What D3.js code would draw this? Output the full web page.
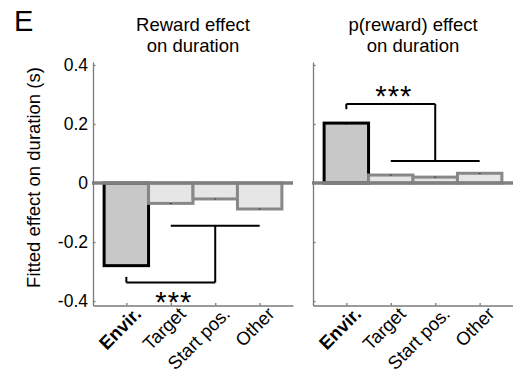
<!DOCTYPE html>
<meta charset="utf-8">
<script src="https://d3js.org/d3.v7.min.js"></script>
<style>
  body { margin: 0; background: #fff; }
  text { font-family: Arial, "Liberation Sans", Helvetica, sans-serif; }
</style>
<div id="my_dataviz"></div>
<script>

// categories and values
var categories = ["Envir.", "Target", "Start pos.", "Other"];
var rewardEffect = [-0.28, -0.069, -0.054, -0.088];
var rewardErr = [0.002, 0.001, 0.001, 0.001];
var pRewardEffect = [0.203, 0.027, 0.02, 0.033];
var pRewardErr = [0.004, 0.001, 0.001, 0.001];
var yTicks = [0.4, 0.2, 0, -0.2, -0.4];
var yTickLabels = ["0.4", "0.2", "0", "-0.2", "-0.4"];

// significance brackets in data units
var rewardBracket = {top: [2, 4, -0.145], drop: [3, -0.145, -0.337], low: [1, 3, -0.337], tick: [1, -0.337, -0.318], stars: [2, -0.385]};
var pRewardBracket = {top: [2, 4, 0.075], drop: [3, 0.075, 0.268], low: [1, 3, 0.268], tick: [1, 0.268, 0.25], stars: [2, 0.313]};

var W = 513, H = 375;
var svg = d3.select("#my_dataviz").append("svg")
  .attr("width", W).attr("height", H);

// y scale is shared by both panels
var y = d3.scaleLinear().domain([-0.415, 0.41]).range([305.5, 62]);

svg.append("text")
  .attr("x", 14).attr("y", 31)
  .style("font-size", "29px")
  .text("E");

svg.append("text")
  .attr("transform", "translate(40," + 177.5 + ") rotate(-90)")
  .attr("text-anchor", "middle")
  .style("font-size", "18.5px")
  .text("Fitted effect on duration (s)");

function drawPanel(left, title, values, errs, bracket, showLabels) {
  var x = d3.scaleLinear().domain([0.25, 4.75]).range([left, left + 200]);
  var g = svg.append("g");

  // title (two lines)
  g.selectAll(".title")
    .data(title)
    .enter().append("text")
      .attr("x", left + 100)
      .attr("y", function(d, i) { return 31 + i * 21; })
      .attr("text-anchor", "middle")
      .style("font-size", "18.5px")
      .text(function(d) { return d; });

  // y axis
  var yAxis = d3.axisLeft(y)
    .tickValues(yTicks)
    .tickSizeInner(-2.5).tickSizeOuter(0)
    .tickPadding(5)
    .tickFormat(function(d, i) { return showLabels ? yTickLabels[i] : ""; });
  var ya = g.append("g")
    .attr("transform", "translate(" + left + ",0)")
    .call(yAxis);
  ya.selectAll("text").style("font-size", "17.5px").attr("fill", "#000");

  // x axis
  var xAxis = d3.axisBottom(x)
    .tickValues([1, 2, 3, 4])
    .tickSizeInner(-2.5).tickSizeOuter(0)
    .tickFormat("");
  g.append("g")
    .attr("transform", "translate(0," + y.range()[0] + ")")
    .call(xAxis);

  g.selectAll(".domain, .tick line")
    .attr("stroke", "#7a7a7a")
    .attr("stroke-width", 1.3);

  // rotated category labels
  g.selectAll(".xlab")
    .data(categories)
    .enter().append("text")
      .attr("transform", function(d, i) {
        return "translate(" + (x(i + 1) + 16) + "," + 315 + ") rotate(-45)";
      })
      .attr("text-anchor", "end")
      .style("font-size", "18.5px")
      .style("font-weight", function(d, i) { return i === 0 ? "bold" : "normal"; })
      .text(function(d) { return d; });

  // bars
  g.selectAll(".bar")
    .data(values)
    .enter().append("rect")
      .attr("x", function(d, i) { return x(i + 0.5); })
      .attr("width", x(1) - x(0))
      .attr("y", function(d) { return y(Math.max(d, 0)); })
      .attr("height", function(d) { return Math.abs(y(d) - y(0)); })
      .attr("fill", function(d, i) { return i === 0 ? "#c8c8c8" : "#e6e6e6"; })
      .attr("stroke", function(d, i) { return i === 0 ? "#000" : "#888"; })
      .attr("stroke-width", 3);

  // error bars
  g.selectAll(".err")
    .data(values)
    .enter().append("line")
      .attr("x1", function(d, i) { return x(i + 1); })
      .attr("x2", function(d, i) { return x(i + 1); })
      .attr("y1", function(d, i) { return y(d - errs[i]); })
      .attr("y2", function(d, i) { return y(d + errs[i]); })
      .attr("stroke", "#000")
      .attr("stroke-width", 2);

  // zero line
  g.append("line")
    .attr("x1", left - 1).attr("x2", left + 200)
    .attr("y1", y(0)).attr("y2", y(0))
    .attr("stroke", "#808080")
    .attr("stroke-width", 3.5);

  // significance bracket
  var b = bracket;
  var segs = [
    [x(b.top[0]), y(b.top[2]), x(b.top[1]), y(b.top[2])],
    [x(b.drop[0]), y(b.drop[1]), x(b.drop[0]), y(b.drop[2])],
    [x(b.low[0]), y(b.low[2]), x(b.low[1]), y(b.low[2])],
    [x(b.tick[0]), y(b.tick[1]), x(b.tick[0]), y(b.tick[2])]
  ];
  g.selectAll(".br")
    .data(segs)
    .enter().append("line")
      .attr("x1", function(d) { return d[0]; })
      .attr("y1", function(d) { return d[1]; })
      .attr("x2", function(d) { return d[2]; })
      .attr("y2", function(d) { return d[3]; })
      .attr("stroke", "#000")
      .attr("stroke-width", 2);

  g.append("text")
    .attr("x", x(b.stars[0]) + 3)
    .attr("y", y(b.stars[1]) + 15)
    .attr("text-anchor", "middle")
    .style("font-size", "29px")
    .style("letter-spacing", "1px")
    .text("***");
}

drawPanel(93, ["Reward effect", "on duration"], rewardEffect, rewardErr, rewardBracket, true);
drawPanel(313, ["p(reward) effect", "on duration"], pRewardEffect, pRewardErr, pRewardBracket, false);

</script>
